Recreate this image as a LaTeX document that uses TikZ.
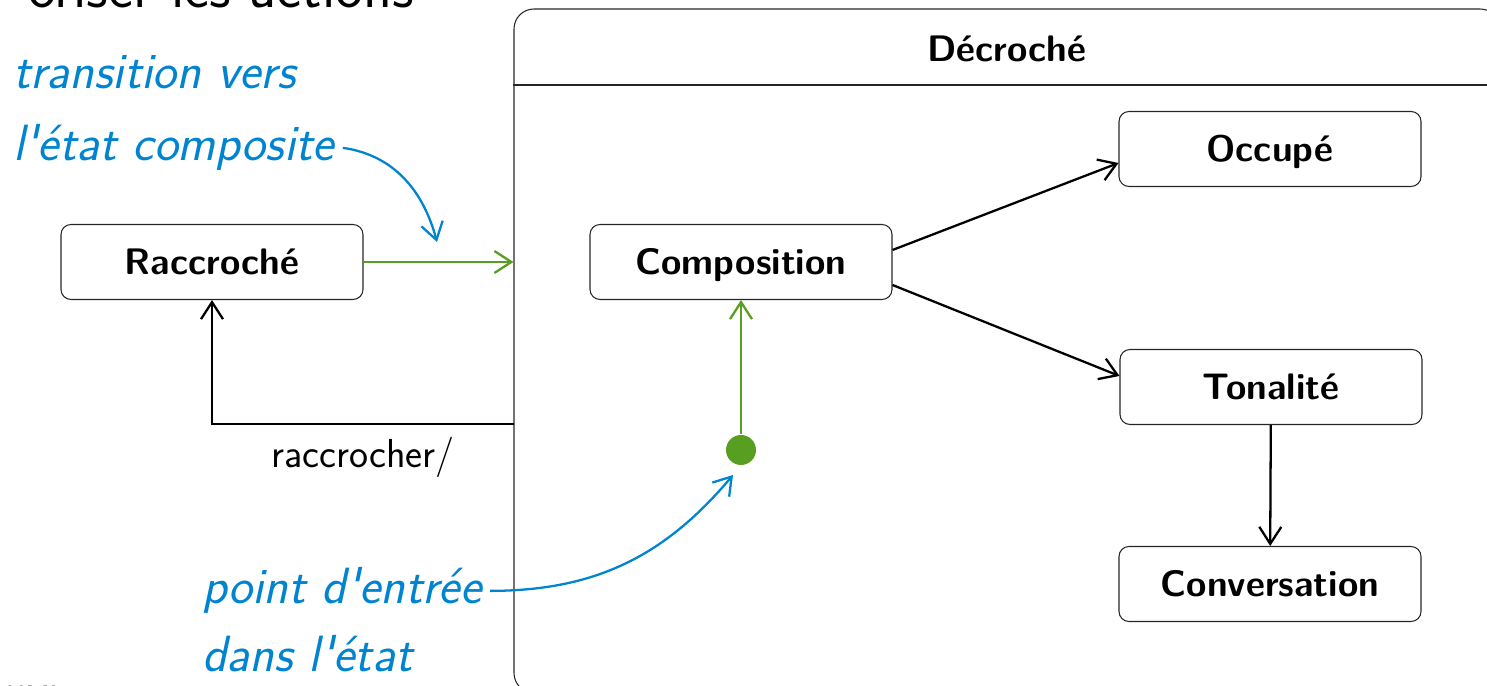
\documentclass[tikz,border=0pt]{standalone}
\usepackage{tikz}
\usetikzlibrary{positioning,arrows.meta}

\definecolor{umlgreen}{RGB}{88,158,32}
\definecolor{umlblue}{RGB}{0,132,208}

\begin{document}
\begin{tikzpicture}[->,>={Straight Barb[length=3.4mm,width=4.4mm]},line width=1.3pt,
    state/.style={draw=black!85,line width=0.6pt,rounded corners=2mm,minimum width=6.04cm,minimum height=1.5cm,text height=14.6pt,text depth=0pt,font=\fontsize{21}{25}\selectfont\sffamily\bfseries},
    composite/.style={draw=black!85,line width=0.6pt,rounded corners=4mm,minimum width=19.72cm,minimum height=13.68cm},
    note/.style={text=umlblue,inner sep=1.5mm,font=\fontsize{29}{34}\selectfont\sffamily\itshape},
    pointer/.style={draw=umlblue,line width=1.3pt}]

    \useasboundingbox (0,0) rectangle (29.74,13.72);

    % slide remains
    \node [anchor=base east,inner sep=0pt,font=\fontsize{34}{40}\selectfont\sffamily] at (8.3,13.56) (titre) {oriser les actions};
    \node [anchor=base west,inner sep=0pt,text=black!50,font=\fontsize{17}{20}\selectfont\sffamily] at (0.1,-0.42) (uml) {UML};

    % The states
    \node [composite] at (20.14,6.70) (D) {};
    \node [inner sep=0pt,font=\fontsize{21}{25}\selectfont\sffamily\bfseries] at (20.14,12.74) (Dnom) {Décroché};
    \draw [-,line width=0.6pt,draw=black!85] (D.west |- 0,12.02) -- (D.east |- 0,12.02);

    \node [state] at (4.24,8.48) (R) {Raccroché};
    \node [state] at (14.82,8.48) (C) {Composition};
    \node [state] at (25.40,10.74) (O) {Occupé};
    \node [state] at (25.42,5.98) (T) {Tonalité};
    \node [state] at (25.40,2.04) (V) {Conversation};
    \node [circle,fill=umlgreen,minimum size=0.6cm,inner sep=0pt] at (14.82,4.72) (init) {};

    % Notes
    \node [note,anchor=base west] at (0.09,11.94) (n1) {transition vers};
    \node [note,anchor=base west] at (0.09,10.50) (n2) {l\textquotesingle état composite};
    \node [note,anchor=base west] at (3.87,1.64) (n3) {point d\textquotesingle entrée};
    \node [note,anchor=base west] at (3.87,0.29) (n4) {dans l\textquotesingle état};
    \coordinate (p1) at (8.74,8.88);
    \coordinate (p2) at (14.66,4.22);
    \coordinate (sortie) at (10.28,5.24);

    % Graph edges
    \path[->,umlgreen]
    (R.east) edge (R.east -| D.west)
    (init) edge (C)
    ;

    \path[->]
    ([yshift=0.24cm]C.east) edge ([yshift=-0.28cm]O.west)
    ([yshift=-0.46cm]C.east) edge ([yshift=0.22cm]T.west)
    (T) edge (V)
    ;

    \draw[->] (sortie) -| node[pos=0.25,below=1.2mm,font=\fontsize{23}{27}\selectfont\sffamily] (lab) {raccrocher/} (R);

    \draw[->,pointer] (n2.east) to[out=-8,in=105] (p1);
    \draw[->,pointer] (n3.east) to[out=0,in=-130] (p2);

\end{tikzpicture}
\end{document}
